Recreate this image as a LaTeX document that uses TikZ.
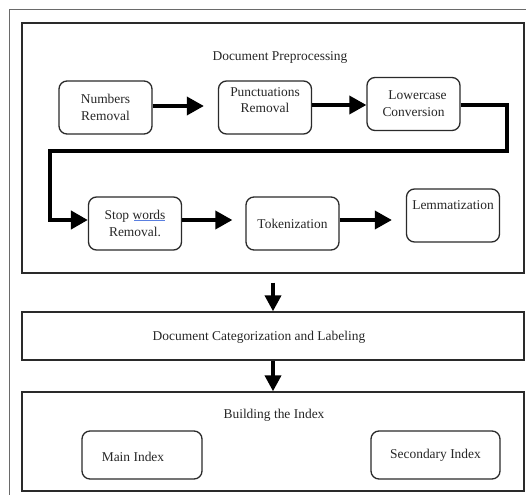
\documentclass[tikz,border=0pt]{standalone}
\usepackage{fontspec}
\setmainfont{Liberation Serif}
\usetikzlibrary{arrows.meta}
\definecolor{frame}{HTML}{6A6A6A}
\definecolor{boxc}{HTML}{2A2A2A}
\definecolor{txt}{HTML}{262626}
\definecolor{ulblue}{HTML}{5A7FE0}
\begin{document}
\begin{tikzpicture}[x=1bp,y=-1bp,
  every node/.style={text=txt,font=\fontsize{13.5}{17}\selectfont},
  stepbox/.style={draw=boxc,line width=1.3bp,rounded corners=8bp,align=center,
    minimum width=93bp,minimum height=53bp,inner sep=2bp},
  bigbox/.style={draw=boxc,line width=1.3bp},
  arr/.style={line width=3.6bp,color=black,-{Triangle[length=17bp,width=18bp]}},
  varr/.style={line width=3.8bp,color=black,-{Triangle[length=16bp,width=16bp]}},
  plain/.style={inner sep=0bp}]
\useasboundingbox (0,0) rectangle (526,495);
\clip (0,0) rectangle (526,495);
% outer frame
\draw[frame,line width=1bp] (9,10) rectangle (540,510);
% big boxes
\draw[bigbox] (22,23) rectangle (524,273);
\draw[bigbox] (22,312) rectangle (524,360);
\draw[bigbox] (22,392) rectangle (524,491);
\node[plain] (catB) at (273,312) {};
\node[plain] (catT) at (273,360) {};
\node[plain] (idxT) at (273,392) {};
% titles
\node (t1) at (280,58) {Document Preprocessing};
\node (t2) at (259,337) {Document Categorization and Labeling};
\node (t3) at (274,415) {Building the Index};
% steps
\node[stepbox] (num) at (105.5,107.5) {Numbers\\Removal};
\node[stepbox] (pun) at (265,107.5) {Punctuations\\Removal\\[-2bp]};
\node[stepbox] (low) at (413.5,104) {\hspace{8bp}Lowercase\\Conversion};
\node[stepbox] (stp) at (135,223.5) {Stop words\\Removal.};
\node[stepbox] (tok) at (292.5,223.5) {Tokenization};
\node[stepbox] (lem) at (453,215.5) {Lemmatization\\[4bp]\mbox{}};
% spell-check underline under "words"
\draw[ulblue,line width=1.2bp] ([xshift=-1bp,yshift=3.2bp]stp.center) -- ([xshift=30bp,yshift=3.2bp]stp.center);
% index boxes
\node[stepbox,minimum width=120bp,minimum height=48bp] (mainb) at (142,455) {};
\node (maint) at (133,457) {Main Index};
\node[stepbox,minimum width=129bp,minimum height=48bp] (secb) at (435.5,455) {Secondary Index};
% arrows
\draw[arr,shorten >=14bp] (num.east |- 0,106) -- (pun.west |- 0,106);
\draw[arr] (pun.east |- 0,105) -- (low.west |- 0,105);
\coordinate (c1) at (507,151);
\coordinate (c2) at (50,151);
\draw[line width=4.5bp,color=black,line join=miter,-{Triangle[length=17bp,width=18bp]}]
  (low.east |- 0,105) -| (c1) -- (c2) |- (stp.west |- 0,220);
\draw[arr,shorten >=13bp] (stp.east |- 0,220) -- (tok.west |- 0,220);
\draw[arr,shorten >=14bp] (tok.east |- 0,220) -- (lem.west |- 0,220);
% vertical arrows
\node[plain] (va) at (273,282) {};
\draw[varr] (va) -- (catB);
\draw[varr] (catT) -- (idxT);
\end{tikzpicture}
\end{document}
